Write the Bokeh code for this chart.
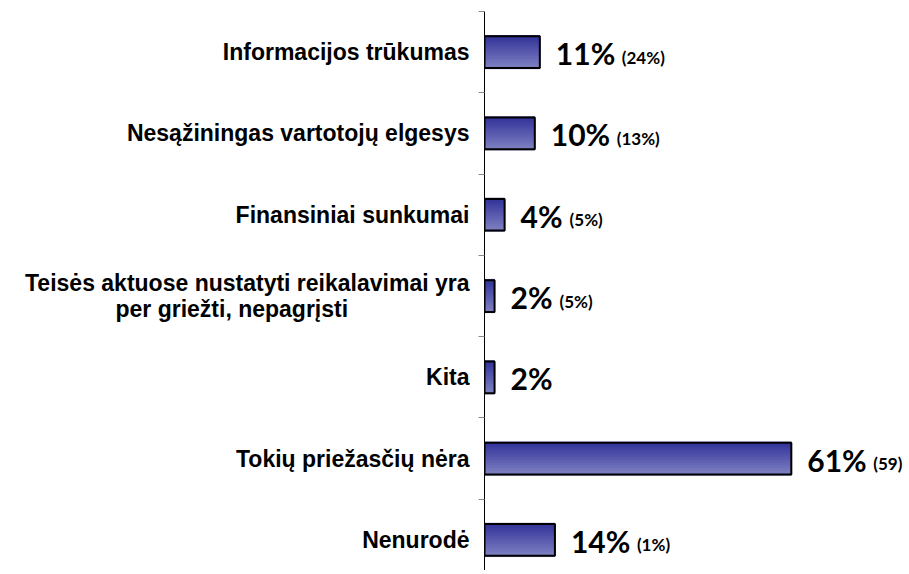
from bokeh.plotting import figure
from bokeh.models import Range1d, FixedTicker, ColumnDataSource
from bokeh.core.properties import value
from bokeh.embed import file_html
from bokeh.resources import INLINE

NB = "\u00a0"
categories = [
    "Informacijos trūkumas",
    "Nesąžiningas vartotojų elgesys",
    "Finansiniai sunkumai",
    "Teisės aktuose nustatyti reikalavimai yra\nper griežti, nepagrįsti" + NB * 19,
    "Kita",
    "Tokių priežasčių nėra",
    "Nenurodė",
]
values = [11, 10, 4, 2, 2, 61, 14]
main_labels = ["11%", "10%", "4%", "2%", "2%", "61%", "14%"]
prev_labels = ["(24%)", "(13%)", "(5%)", "(5%)", "", "(59)", "(1%)"]

ypos = list(range(len(categories)))

p = figure(width=905, height=570, output_backend="svg", toolbar_location=None,
           x_range=Range1d(0, 83.7), y_range=Range1d(6.376, -0.5),
           min_border_left=484, min_border_top=11, min_border_right=0, min_border_bottom=0)
p.outline_line_color = None
p.grid.visible = False
p.xaxis.visible = False
p.background_fill_color = "white"
p.border_fill_color = "white"

yax = p.yaxis[0]
yax.ticker = FixedTicker(ticks=ypos, minor_ticks=[i - 0.5 for i in range(len(categories) + 1)])
yax.major_label_overrides = {i: c for i, c in enumerate(categories)}
yax.major_tick_out = 0
yax.major_tick_in = 0
yax.minor_tick_out = 6
yax.minor_tick_in = 0
yax.minor_tick_line_color = "#888888"
yax.axis_line_color = "black"
yax.axis_line_width = 1
yax.major_label_text_font = "Arial"
yax.major_label_text_font_style = "bold"
yax.major_label_text_font_size = "23px"
yax.major_label_text_color = "black"
yax.major_label_text_line_height = 1.0
yax.major_label_standoff = 9

# gradient bars as thin strips
bar_h = 0.39
n = 12
top_c = (0x33, 0x33, 0x99)
bot_c = (0x7a, 0x7c, 0xc0)
for k in range(n):
    t = k / (n - 1)
    col = "#%02x%02x%02x" % tuple(int(round(a + (b - a) * t)) for a, b in zip(top_c, bot_c))
    off = -bar_h / 2 + (k + 0.5) * bar_h / n
    p.hbar(y=[y + off for y in ypos], left=0, right=values, height=bar_h / n * 1.6,
           fill_color=col, line_color=col, line_width=0.6)
p.hbar(y=ypos, left=0, right=values, height=bar_h, fill_color=None,
       line_color="black", line_width=2)

# value labels
big_w = [len(s) * 17 + 8 for s in main_labels]
src = ColumnDataSource(dict(x=values, y=ypos, main=main_labels, prev=prev_labels,
                            poff=[16 + w + 7 for w in big_w]))
p.text(x="x", y="y", text="main", source=src, x_offset=16, y_offset=1,
       text_font=value("Lato"), text_font_style="bold", text_font_size="30px",
       text_baseline="middle", text_align="left", text_color="black")
p.text(x="x", y="y", text="prev", source=src, x_offset="poff", y_offset=5,
       text_font=value("Lato"), text_font_style="bold", text_font_size="17px",
       text_baseline="middle", text_align="left", text_color="black")

open("out.html", "w").write(file_html(p, INLINE))
